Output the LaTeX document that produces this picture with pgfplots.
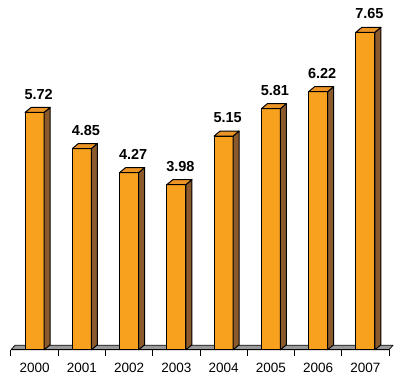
\documentclass[border=0pt]{standalone}
\usepackage{pgfplots}
\pgfplotsset{compat=1.18}
\usepackage{fontspec}
\setmainfont{Liberation Sans}
\definecolor{front}{HTML}{F8A11E}
\definecolor{topc}{HTML}{EC9526}
\definecolor{side}{HTML}{8A5A2C}
\definecolor{floorc}{HTML}{9A9A9A}
\begin{document}
\begin{tikzpicture}
\path[use as bounding box] (0pt,0pt) rectangle (400pt,386pt);
\begin{axis}[
  at={(11pt,36.2pt)}, anchor=south west,
  scale only axis, x=47.25pt, y=41.5pt,
  xmin=-0.5, xmax=7.5, ymin=0, ymax=8.4,
  clip=false, axis on top,
  axis y line=none, axis x line=bottom,
  x axis line style={-, black, line width=1pt},
  xtick={-0.5,0.5,1.5,2.5,3.5,4.5,5.5,6.5,7.5}, xticklabels={},
  tick align=outside, major tick length=6pt,
  xtick style={black, line width=1pt},
  extra x ticks={0,1,2,3,4,5,6,7},
  extra x tick labels={2000,2001,2002,2003,2004,2005,2006,2007},
  extra x tick style={major tick length=0pt,
    xticklabel style={anchor=center, yshift=-18pt, font=\fontsize{13.5}{14}\selectfont}},
]
\fill[floorc, draw=black, line width=0.7pt, line join=round]
  (axis cs:-0.5,0) -- (axis cs:7.5,0) -- ++(4pt,4.5pt)
  -- ([shift={(4pt,4.5pt)}]axis cs:-0.5,0) -- cycle;
\addplot[only marks, scatter, forget plot,
  visualization depends on={rawy \as \rawy},
  scatter/@pre marker code/.code={%
    \pgfmathsetmacro{\H}{-\rawy*41.5}%
    \pgfmathsetmacro{\Hb}{5+\H}%
    \filldraw[fill=side, draw=black, line width=1pt, line join=round]
      (9.5pt,0pt) -- (15.5pt,5pt) -- (15.5pt,\Hb pt) -- (9.5pt,\H pt) -- cycle;
    \filldraw[fill=topc, draw=black, line width=1pt, line join=round]
      (-9.5pt,0pt) -- (9.5pt,0pt) -- (15.5pt,5pt) -- (-3.5pt,5pt) -- cycle;
  },
  scatter/@post marker code/.code={},
  mark=*, mark size=0pt, mark options={draw=none, fill=none}]
coordinates {(0,5.72) (1,4.85) (2,4.27) (3,3.98) (4,5.15) (5,5.81) (6,6.22) (7,7.65)};
\addplot[ybar, bar width=19pt, fill=front, draw=black, line width=1pt,
  point meta=explicit symbolic, nodes near coords,
  nodes near coords style={font=\bfseries\fontsize{14.5}{15}\selectfont, black,
    anchor=center, yshift=18.4pt, xshift=4pt}]
coordinates {(0,5.72) [5.72] (1,4.85) [4.85] (2,4.27) [4.27] (3,3.98) [3.98]
  (4,5.15) [5.15] (5,5.81) [5.81] (6,6.22) [6.22] (7,7.65) [7.65]};
\end{axis}
\end{tikzpicture}
\end{document}
